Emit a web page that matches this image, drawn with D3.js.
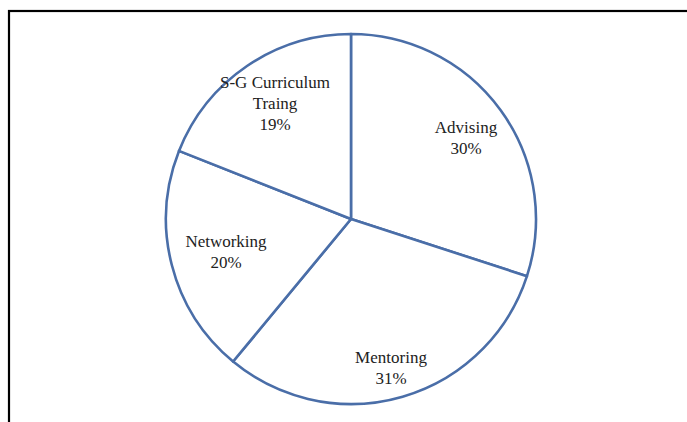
<!DOCTYPE html>
<html>
<head>
<meta charset="utf-8">
<script src="https://cdn.jsdelivr.net/npm/d3@7"></script>
<style>
  html, body { margin: 0; padding: 0; background: #fff; }
  svg { display: block; }
</style>
</head>
<body>
<svg id="chart" width="687" height="422"></svg>
<script>
// Share of support activities, clockwise from 12 o'clock
const categories = ["Advising", "Mentoring", "Networking", "S-G Curriculum Traing"];
const values = [30, 31, 20, 19];
const labelLines = [["Advising"], ["Mentoring"], ["Networking"], ["S-G Curriculum", "Traing"]];

const svg = d3.select("#chart");
const W = 687, H = 422;
const cx = 351, cy = 219, R = 185;

// Outer frame (runs off the right and bottom edges)
svg.append("rect")
  .attr("x", 9).attr("y", 11)
  .attr("width", W + 20).attr("height", H + 20)
  .attr("fill", "#fff")
  .attr("stroke", "#000")
  .attr("stroke-width", 2.2);

const data = categories.map((c, i) => ({ name: c, value: values[i], lines: labelLines[i] }));

const pie = d3.pie().value(d => d.value).sort(null);
const arc = d3.arc().innerRadius(0).outerRadius(R);
const labelArc = d3.arc().innerRadius(R * 0.62).outerRadius(R * 0.62);

const g = svg.append("g").attr("transform", `translate(${cx},${cy})`);
const arcs = pie(data);

g.selectAll("path.slice")
  .data(arcs)
  .join("path")
  .attr("class", "slice")
  .attr("d", arc)
  .attr("fill", "#fff")
  .attr("stroke", "#4a6ea8")
  .attr("stroke-width", 2.6)
  .attr("stroke-linejoin", "round");

// Label placement per slice (offsets from pie centre)
const labelPos = {
  "Advising": [115, -86],
  "Mentoring": [40, 144],
  "Networking": [-125, 28],
  "S-G Curriculum Traing": [-76, -131]
};

const labels = g.selectAll("text.lbl")
  .data(arcs)
  .join("text")
  .attr("class", "lbl")
  .attr("text-anchor", "middle")
  .attr("font-family", "'Liberation Serif', 'Times New Roman', serif")
  .attr("font-size", 17)
  .attr("fill", "#222")
  .attr("transform", d => `translate(${labelPos[d.data.name][0]},${labelPos[d.data.name][1]})`);

labels.each(function(d) {
  const t = d3.select(this);
  const lines = d.data.lines.concat([d3.format(".0f")(d.data.value) + "%"]);
  lines.forEach((s, i) => {
    t.append("tspan").attr("x", 0).attr("y", i * 21).text(s);
  });
});
</script>
</body>
</html>
